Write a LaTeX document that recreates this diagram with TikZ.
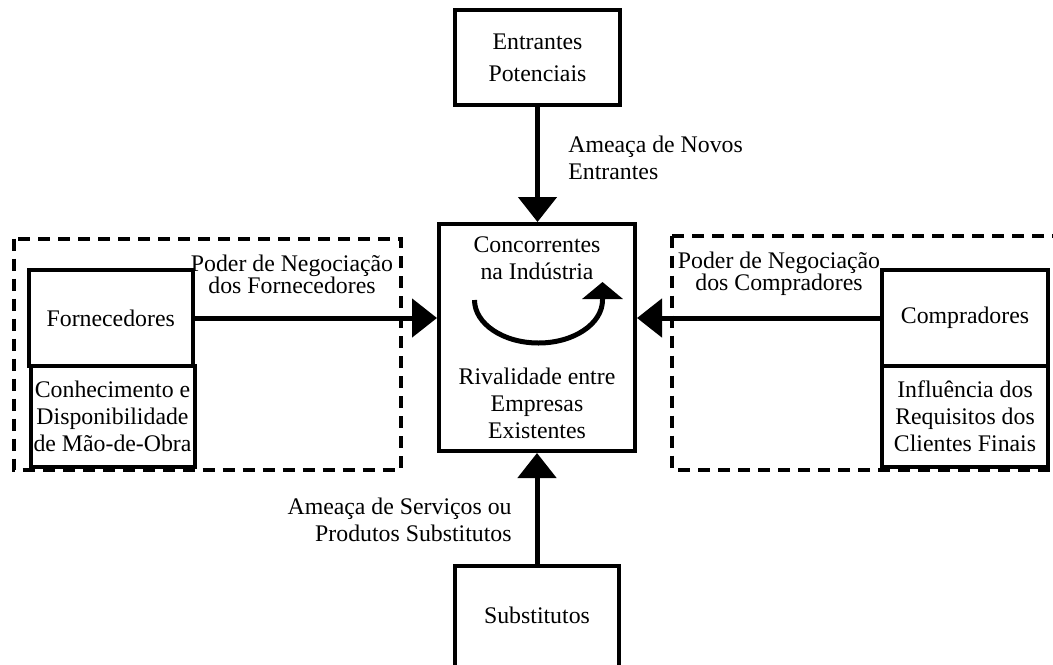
\documentclass[tikz,border=0pt]{standalone}
\usepackage{fontspec}
\setmainfont{Liberation Serif}
\usetikzlibrary{arrows.meta}

\newcommand{\diagfont}{\fontsize{11.9}{13.5}\selectfont}
\newcommand{\tightfont}{\fontsize{11.9}{11}\selectfont}

\begin{document}
\begin{tikzpicture}[
  x=0.5pt, y=-0.5pt,
  box/.style={rectangle, draw=black, line width=2pt, align=center,
    font=\diagfont, inner sep=0pt},
  txt/.style={align=center, font=\diagfont, inner sep=0pt},
  dashbox/.style={draw=black, line width=2pt, dash pattern=on 6pt off 4pt},
  arrow/.style={-{Triangle[length=12.5pt, width=19pt]}, line width=2.5pt},
  rival/.style={-{Triangle[length=8.5pt, width=20pt]}, line width=2.5pt},
]
\useasboundingbox (0,0) rectangle (1053,664);
\clip (0,0) rectangle (1053,664);

\draw[dashbox] (13.5,238.5) rectangle (400.5,469.5);
\draw[dashbox] (672,235.5) rectangle (1064,469.5);

\node[box, minimum width=82.5pt, minimum height=47.5pt] (entr) at (537.5,57.5)
  {Entrantes\\[2.5pt]Potenciais};

\node[box, minimum width=98pt, minimum height=113.5pt] (core) at (537,337.5) {};
\node[txt] (core_top) at (537,258) {Concorrentes\\na Indústria};
\node[txt] (core_bot) at (537,403) {Rivalidade entre\\Empresas\\Existentes};
\coordinate (rv_start) at (474.5,300);
\draw[rival] (rv_start) arc[start angle=180, end angle=360,
  x radius=32pt, y radius=21.5pt] -- ++(0,-18);

\node[box, minimum width=81.75pt, minimum height=48pt] (forn) at (110.75,318)
  {Fornecedores};
\node[box, minimum width=82pt, minimum height=50.5pt] (conh) at (112.5,416.5)
  {Conhecimento e\\Disponibilidade\\de Mão-de-Obra};

\node[box, minimum width=83pt, minimum height=48pt] (comp) at (965,318)
  {Compradores};
\node[box, minimum width=83pt, minimum height=50.5pt] (infl) at (965,416.5)
  {Influência dos\\Requisitos dos\\Clientes Finais};

\node[box, minimum width=82pt, minimum height=51pt] (subst) at (537,617)
  {\raisebox{2pt}{Substitutos}};

\node[txt, anchor=west, align=left] (lab_novos) at (568,158)
  {Ameaça de Novos\\Entrantes};
\node[txt, font=\tightfont] (lab_forn) at (292,274)
  {Poder de Negociação\\dos Fornecedores};
\node[txt, font=\tightfont] (lab_comp) at (779,273.5)
  {Poder de Negociação\\dos Compradores};
\node[txt, anchor=east, align=right] (lab_subst) at (512,520)
  {Ameaça de Serviços ou\\Produtos Substitutos};

\draw[arrow] (entr.south) -- (entr.south |- core.north);
\draw[arrow] (forn.east) -- (forn.east -| core.west);
\draw[arrow] (comp.west) -- (comp.west -| core.east);
\draw[arrow] (subst.north) -- (subst.north |- core.south);

\end{tikzpicture}
\end{document}
